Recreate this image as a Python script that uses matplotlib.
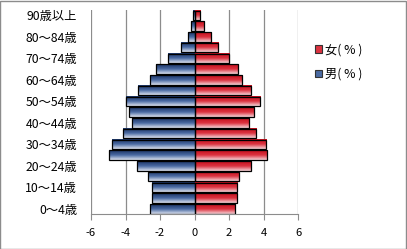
import numpy as np
import matplotlib
matplotlib.use("Agg")
import matplotlib.pyplot as plt
from matplotlib.colors import LinearSegmentedColormap
from matplotlib.patches import Rectangle, Patch

plt.rcParams['font.family'] = ['Noto Sans CJK JP', 'DejaVu Sans']
plt.rcParams['axes.unicode_minus'] = False

# -----------------------------
# DATA
# -----------------------------
ages = ["0〜4歳", "5〜9歳", "10〜14歳", "15〜19歳", "20〜24歳", "25〜29歳",
        "30〜34歳", "35〜39歳", "40〜44歳", "45〜49歳", "50〜54歳", "55〜59歳",
        "60〜64歳", "65〜69歳", "70〜74歳", "75〜79歳", "80〜84歳", "85〜89歳",
        "90歳以上"]
male = [2.60, 2.46, 2.46, 2.69, 3.33, 4.93, 4.81, 4.15, 3.63, 3.77,
        4.00, 3.30, 2.60, 2.24, 1.56, 0.80, 0.39, 0.22, 0.08]
female = [2.37, 2.48, 2.48, 2.60, 3.30, 4.22, 4.16, 3.58, 3.18, 3.45,
          3.81, 3.30, 2.76, 2.53, 2.00, 1.37, 0.97, 0.54, 0.33]
xticks = [-6, -4, -2, 0, 2, 4, 6]

# -----------------------------
# STYLE
# -----------------------------
male_cmap = LinearSegmentedColormap.from_list("m", ["#1a3263", "#4a6aa2", "#dde3ef"])
female_cmap = LinearSegmentedColormap.from_list("f", ["#c40f1c", "#dc3340", "#f6d6da"])
grad = np.linspace(0, 1, 64).reshape(-1, 1)
bar_h = 0.9
grey = "#8c8c8c"

fig = plt.figure(figsize=(4.07, 2.49), dpi=100)
ax = fig.add_axes([0.2236, 0.1394, 0.5086, 0.8204])

y = np.arange(len(ages))

# gridlines first
for t in xticks:
    ax.axvline(t, color=grey, lw=0.9, zorder=0)

# bars with vertical gradient (dark on top)
for i in range(len(ages)):
    for val, cmap in ((-male[i], male_cmap), (female[i], female_cmap)):
        x0, x1 = min(0, val), max(0, val)
        ax.imshow(grad, cmap=cmap, aspect='auto', interpolation='bilinear',
                  extent=(x0, x1, y[i] + bar_h / 2, y[i] - bar_h / 2),
                  origin='lower', zorder=2)
        ax.add_patch(Rectangle((x0, y[i] - bar_h / 2), x1 - x0, bar_h,
                               fill=False, edgecolor="black", lw=0.9, zorder=3))

ax.set_xlim(-6, 6)
ax.set_ylim(-0.5, len(ages) - 0.5)

ax.set_xticks(xticks)
ax.set_xticklabels([str(t) for t in xticks], fontsize=8)
ax.set_yticks(y[::2])
ax.set_yticklabels(ages[::2], fontsize=8.8)
ax.tick_params(axis='y', length=0, pad=10)
ax.tick_params(axis='x', direction='out', length=4, color=grey, pad=6)

for s in ("top", "right", "left"):
    ax.spines[s].set_visible(False)
ax.spines["bottom"].set_color(grey)

# legend
handles = [Patch(facecolor="#dc3340", edgecolor="#333333", lw=0.8, label="女( % )"),
           Patch(facecolor="#4a6aa2", edgecolor="#333333", lw=0.8, label="男( % )")]
fig.legend(handles=handles, loc="upper left", bbox_to_anchor=(0.748, 0.87),
           frameon=False, fontsize=8.8, handlelength=0.55, handleheight=0.55,
           handletextpad=0.25, labelspacing=0.95)

# outer frame
fig.patches.append(Rectangle((0.001, 0.002), 0.997, 0.995, transform=fig.transFigure,
                             fill=False, edgecolor=grey, lw=1.0))

fig.savefig("out.png", dpi=100)
